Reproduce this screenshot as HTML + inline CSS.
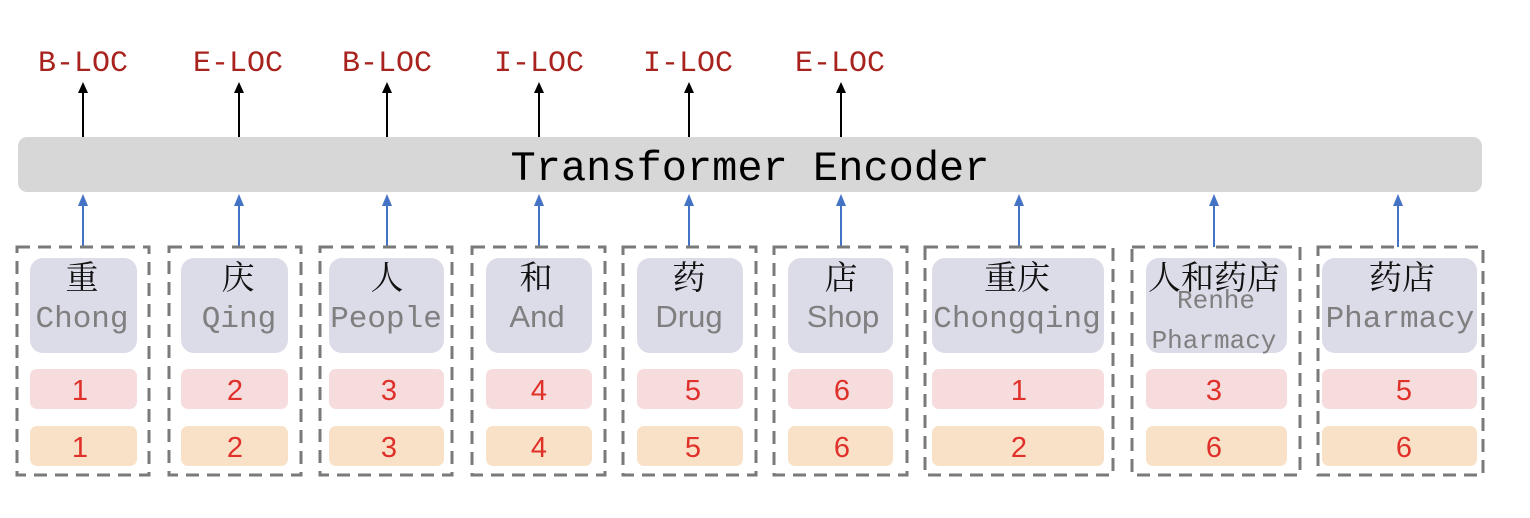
<!DOCTYPE html>
<html><head><meta charset="utf-8"><style>
html,body{margin:0;padding:0;background:#fff;}
svg{display:block;}
.lbl{font-family:"Liberation Mono",monospace;font-size:30px;fill:#a8231e;text-anchor:middle;}
.zh{font-family:"Liberation Serif","Noto Serif CJK SC",serif;font-size:33px;fill:#111;text-anchor:middle;}
.en{font-family:"Liberation Mono",monospace;font-size:31px;fill:#7f7f7f;text-anchor:middle;}
.ens{font-family:"Liberation Sans",sans-serif;font-size:31px;fill:#7f7f7f;text-anchor:middle;}
.num{font-family:"Liberation Sans",sans-serif;font-size:29px;fill:#e0302a;text-anchor:middle;}
</style></head><body>
<svg width="1530" height="518" viewBox="0 0 1530 518" xmlns="http://www.w3.org/2000/svg">
<rect x="18" y="137" width="1464" height="55" rx="9" fill="#d7d7d7"/>
<text x="750" y="180" font-family="Liberation Mono,monospace" font-size="42" fill="#000" text-anchor="middle">Transformer Encoder</text>
<g>
<text class="lbl" x="83" y="71">B-LOC</text>
<text class="lbl" x="238" y="71">E-LOC</text>
<text class="lbl" x="387" y="71">B-LOC</text>
<text class="lbl" x="539" y="71">I-LOC</text>
<text class="lbl" x="688" y="71">I-LOC</text>
<text class="lbl" x="840" y="71">E-LOC</text>
</g>
<g stroke="#000" stroke-width="2" fill="none">
<line x1="83" y1="137" x2="83" y2="92"/><line x1="239" y1="137" x2="239" y2="92"/><line x1="387" y1="137" x2="387" y2="92"/><line x1="539" y1="137" x2="539" y2="92"/><line x1="689" y1="137" x2="689" y2="92"/><line x1="841" y1="137" x2="841" y2="92"/>
</g>
<g fill="#000">
<path d="M78,93 L83,82 L88,93Z"/><path d="M234,93 L239,82 L244,93Z"/><path d="M382,93 L387,82 L392,93Z"/><path d="M534,93 L539,82 L544,93Z"/><path d="M684,93 L689,82 L694,93Z"/><path d="M836,93 L841,82 L846,93Z"/>
</g>
<g stroke="#4472c4" stroke-width="2">
<line x1="83" y1="247" x2="83" y2="205"/><line x1="239" y1="247" x2="239" y2="205"/><line x1="387" y1="247" x2="387" y2="205"/><line x1="539" y1="247" x2="539" y2="205"/><line x1="689" y1="247" x2="689" y2="205"/><line x1="841" y1="247" x2="841" y2="205"/><line x1="1019" y1="247" x2="1019" y2="205"/><line x1="1214" y1="247" x2="1214" y2="205"/><line x1="1398" y1="247" x2="1398" y2="205"/>
</g>
<g fill="#4472c4">
<path d="M78,206 L83,194 L88,206Z"/><path d="M234,206 L239,194 L244,206Z"/><path d="M382,206 L387,194 L392,206Z"/><path d="M534,206 L539,194 L544,206Z"/><path d="M684,206 L689,194 L694,206Z"/><path d="M836,206 L841,194 L846,206Z"/><path d="M1014,206 L1019,194 L1024,206Z"/><path d="M1209,206 L1214,194 L1219,206Z"/><path d="M1393,206 L1398,194 L1403,206Z"/>
</g>
<g fill="none" stroke="#7a7a7a" stroke-width="3" stroke-dasharray="13 8">
<rect x="17" y="247" width="132" height="228"/>
<rect x="169" y="247" width="132" height="228"/>
<rect x="320" y="247" width="132" height="228"/>
<rect x="472" y="247" width="133" height="228"/>
<rect x="623" y="247" width="133" height="228"/>
<rect x="774" y="247" width="133" height="228"/>
<rect x="925" y="247" width="188" height="228"/>
<rect x="1132" y="247" width="168" height="228"/>
<rect x="1318" y="247" width="165" height="228"/>
</g>
<g fill="#dcdbe8">
<rect x="30" y="258" width="107" height="95" rx="13"/>
<rect x="181" y="258" width="107" height="95" rx="13"/>
<rect x="329" y="258" width="115" height="95" rx="13"/>
<rect x="486" y="258" width="106" height="95" rx="13"/>
<rect x="637" y="258" width="106" height="95" rx="13"/>
<rect x="788" y="258" width="105" height="95" rx="13"/>
<rect x="932" y="258" width="172" height="95" rx="13"/>
<rect x="1146" y="258" width="141" height="95" rx="13"/>
<rect x="1322" y="258" width="155" height="95" rx="13"/>
</g>
<g fill="#f6dcdc">
<rect x="30" y="369" width="107" height="40" rx="7"/>
<rect x="181" y="369" width="107" height="40" rx="7"/>
<rect x="329" y="369" width="115" height="40" rx="7"/>
<rect x="486" y="369" width="106" height="40" rx="7"/>
<rect x="637" y="369" width="106" height="40" rx="7"/>
<rect x="788" y="369" width="105" height="40" rx="7"/>
<rect x="932" y="369" width="172" height="40" rx="7"/>
<rect x="1146" y="369" width="141" height="40" rx="7"/>
<rect x="1322" y="369" width="155" height="40" rx="7"/>
</g>
<g fill="#f9e1c7">
<rect x="30" y="426" width="107" height="40" rx="7"/>
<rect x="181" y="426" width="107" height="40" rx="7"/>
<rect x="329" y="426" width="115" height="40" rx="7"/>
<rect x="486" y="426" width="106" height="40" rx="7"/>
<rect x="637" y="426" width="106" height="40" rx="7"/>
<rect x="788" y="426" width="105" height="40" rx="7"/>
<rect x="932" y="426" width="172" height="40" rx="7"/>
<rect x="1146" y="426" width="141" height="40" rx="7"/>
<rect x="1322" y="426" width="155" height="40" rx="7"/>
</g>
<text class="zh" x="82" y="289">重</text>
<text class="zh" x="238" y="289">庆</text>
<text class="zh" x="387" y="289">人</text>
<text class="zh" x="536" y="289">和</text>
<text class="zh" x="689" y="289">药</text>
<text class="zh" x="841" y="289">店</text>
<text class="zh" x="1017" y="289">重庆</text>
<text class="zh" x="1214" y="289">人和药店</text>
<text class="zh" x="1402" y="289">药店</text>
<text class="en" x="82" y="327">Chong</text>
<text class="en" x="239" y="327">Qing</text>
<text class="en" x="386" y="327">People</text>
<text class="ens" x="537" y="327">And</text>
<text class="ens" x="689" y="327">Drug</text>
<text class="ens" x="843" y="327">Shop</text>
<text class="en" x="1017" y="327">Chongqing</text>
<text class="en" x="1216" y="308" style="font-size:26px">Renhe</text>
<text class="en" x="1214" y="348" style="font-size:26px">Pharmacy</text>
<text class="en" x="1400" y="327">Pharmacy</text>
<text class="num" x="80" y="400">1</text><text class="num" x="235" y="400">2</text><text class="num" x="389" y="400">3</text><text class="num" x="539" y="400">4</text><text class="num" x="693" y="400">5</text><text class="num" x="842" y="400">6</text><text class="num" x="1019" y="400">1</text><text class="num" x="1214" y="400">3</text><text class="num" x="1404" y="400">5</text>
<text class="num" x="80" y="457">1</text><text class="num" x="235" y="457">2</text><text class="num" x="389" y="457">3</text><text class="num" x="539" y="457">4</text><text class="num" x="693" y="457">5</text><text class="num" x="842" y="457">6</text><text class="num" x="1019" y="457">2</text><text class="num" x="1214" y="457">6</text><text class="num" x="1404" y="457">6</text>
</svg>
</body></html>
